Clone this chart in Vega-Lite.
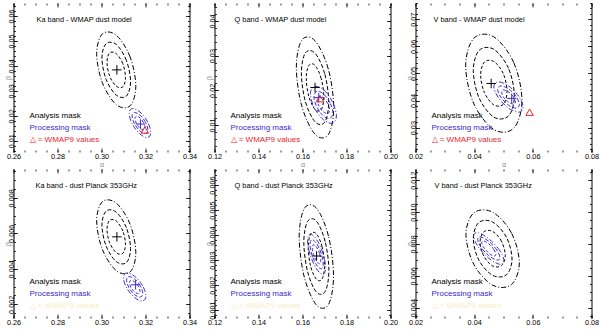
{
"$schema": "https://vega.github.io/schema/vega-lite/v6.json",
"padding": {"left": 3.5, "top": 2, "right": 0, "bottom": 0},
"bounds": "flush",
"columns": 3,
"spacing": {"row": 17, "column": 25},
"resolve": {"scale": {"x": "independent", "y": "independent", "color": "independent"}, "legend": {"color": "independent"}},
"config": {
 "font": "Liberation Sans",
 "view": {"stroke": null},
 "axis": {"grid": false, "labelFontSize": 7.3, "labelColor": "#000", "tickColor": "#000", "domainColor": "#000", "tickWidth": 0.8, "domainWidth": 1, "titleColor": "#888", "titleFontSize": 7, "titleFontWeight": "normal", "labelFlush": false, "labelOverlap": false},
 "legend": {"orient": "bottom-left", "offset": 8, "padding": 0, "symbolOpacity": 0, "symbolSize": 0, "symbolStrokeWidth": 0, "labelOffset": 0, "labelFontSize": 8, "rowPadding": 3.8, "labelLimit": 300, "title": null},
 "title": {"anchor": "start", "fontSize": 7.4, "fontWeight": "normal", "offset": -21, "baseline": "alphabetic", "frame": "group", "color": "#000"}
},
"datasets": {
 "m": [
  {"p":1,"s":"A","x":0.3070,"y":0.0384},{"p":1,"s":"P","x":0.3177,"y":0.0167},
  {"p":2,"s":"A","x":0.1657,"y":0.0208},{"p":2,"s":"P","x":0.1674,"y":0.0179},
  {"p":3,"s":"A","x":0.0458,"y":0.0463},{"p":3,"s":"P","x":0.0528,"y":0.0408},
  {"p":4,"s":"A","x":0.3070,"y":0.0058},{"p":4,"s":"P","x":0.3155,"y":0.0031},
  {"p":5,"s":"A","x":0.1664,"y":0.00316}
 ],
 "t": [
  {"p":1,"s":"W","x":0.3197,"y":0.0143},
  {"p":2,"s":"W","x":0.1680,"y":0.0176},
  {"p":3,"s":"W","x":0.0589,"y":0.0357}
 ],
 "c": [
  {"p":1,"s":"A","l":3,"o":0,"x":0.3156,"y":0.0319},{"p":1,"s":"A","l":3,"o":1,"x":0.3130,"y":0.0436},{"p":1,"s":"A","l":3,"o":2,"x":0.3067,"y":0.0523},{"p":1,"s":"A","l":3,"o":3,"x":0.3004,"y":0.0528},{"p":1,"s":"A","l":3,"o":4,"x":0.2978,"y":0.0449},{"p":1,"s":"A","l":3,"o":5,"x":0.3004,"y":0.0332},{"p":1,"s":"A","l":3,"o":6,"x":0.3067,"y":0.0245},{"p":1,"s":"A","l":3,"o":7,"x":0.3130,"y":0.0240},
  {"p":1,"s":"A","l":2,"o":0,"x":0.3132,"y":0.0337},{"p":1,"s":"A","l":2,"o":1,"x":0.3113,"y":0.0422},{"p":1,"s":"A","l":2,"o":2,"x":0.3067,"y":0.0486},{"p":1,"s":"A","l":2,"o":3,"x":0.3021,"y":0.0489},{"p":1,"s":"A","l":2,"o":4,"x":0.3002,"y":0.0432},{"p":1,"s":"A","l":2,"o":5,"x":0.3021,"y":0.0346},{"p":1,"s":"A","l":2,"o":6,"x":0.3067,"y":0.0283},{"p":1,"s":"A","l":2,"o":7,"x":0.3113,"y":0.0279},
  {"p":1,"s":"A","l":1,"o":0,"x":0.3109,"y":0.0353},{"p":1,"s":"A","l":1,"o":1,"x":0.3097,"y":0.0409},{"p":1,"s":"A","l":1,"o":2,"x":0.3067,"y":0.0449},{"p":1,"s":"A","l":1,"o":3,"x":0.3037,"y":0.0452},{"p":1,"s":"A","l":1,"o":4,"x":0.3025,"y":0.0415},{"p":1,"s":"A","l":1,"o":5,"x":0.3037,"y":0.0359},{"p":1,"s":"A","l":1,"o":6,"x":0.3067,"y":0.0319},{"p":1,"s":"A","l":1,"o":7,"x":0.3097,"y":0.0316},
  {"p":1,"s":"P","l":3,"o":0,"x":0.3224,"y":0.0133},{"p":1,"s":"P","l":3,"o":1,"x":0.3210,"y":0.0175},{"p":1,"s":"P","l":3,"o":2,"x":0.3175,"y":0.0215},{"p":1,"s":"P","l":3,"o":3,"x":0.3140,"y":0.0229},{"p":1,"s":"P","l":3,"o":4,"x":0.3126,"y":0.0209},{"p":1,"s":"P","l":3,"o":5,"x":0.3140,"y":0.0167},{"p":1,"s":"P","l":3,"o":6,"x":0.3175,"y":0.0127},{"p":1,"s":"P","l":3,"o":7,"x":0.3210,"y":0.0113},
  {"p":1,"s":"P","l":2,"o":0,"x":0.3211,"y":0.0143},{"p":1,"s":"P","l":2,"o":1,"x":0.3200,"y":0.0174},{"p":1,"s":"P","l":2,"o":2,"x":0.3175,"y":0.0203},{"p":1,"s":"P","l":2,"o":3,"x":0.3150,"y":0.0213},{"p":1,"s":"P","l":2,"o":4,"x":0.3139,"y":0.0199},{"p":1,"s":"P","l":2,"o":5,"x":0.3150,"y":0.0168},{"p":1,"s":"P","l":2,"o":6,"x":0.3175,"y":0.0139},{"p":1,"s":"P","l":2,"o":7,"x":0.3200,"y":0.0129},
  {"p":1,"s":"P","l":1,"o":0,"x":0.3198,"y":0.0153},{"p":1,"s":"P","l":1,"o":1,"x":0.3191,"y":0.0173},{"p":1,"s":"P","l":1,"o":2,"x":0.3175,"y":0.0192},{"p":1,"s":"P","l":1,"o":3,"x":0.3159,"y":0.0198},{"p":1,"s":"P","l":1,"o":4,"x":0.3152,"y":0.0189},{"p":1,"s":"P","l":1,"o":5,"x":0.3159,"y":0.0169},{"p":1,"s":"P","l":1,"o":6,"x":0.3175,"y":0.0150},{"p":1,"s":"P","l":1,"o":7,"x":0.3191,"y":0.0144},

  {"p":2,"s":"A","l":3,"o":0,"x":0.1742,"y":0.0150},{"p":2,"s":"A","l":3,"o":1,"x":0.1717,"y":0.0262},{"p":2,"s":"A","l":3,"o":2,"x":0.1657,"y":0.0343},{"p":2,"s":"A","l":3,"o":3,"x":0.1597,"y":0.0345},{"p":2,"s":"A","l":3,"o":4,"x":0.1572,"y":0.0266},{"p":2,"s":"A","l":3,"o":5,"x":0.1597,"y":0.0154},{"p":2,"s":"A","l":3,"o":6,"x":0.1657,"y":0.0073},{"p":2,"s":"A","l":3,"o":7,"x":0.1717,"y":0.0072},
  {"p":2,"s":"A","l":2,"o":0,"x":0.1719,"y":0.0166},{"p":2,"s":"A","l":2,"o":1,"x":0.1701,"y":0.0248},{"p":2,"s":"A","l":2,"o":2,"x":0.1657,"y":0.0307},{"p":2,"s":"A","l":2,"o":3,"x":0.1613,"y":0.0308},{"p":2,"s":"A","l":2,"o":4,"x":0.1595,"y":0.0250},{"p":2,"s":"A","l":2,"o":5,"x":0.1613,"y":0.0168},{"p":2,"s":"A","l":2,"o":6,"x":0.1657,"y":0.0109},{"p":2,"s":"A","l":2,"o":7,"x":0.1701,"y":0.0108},
  {"p":2,"s":"A","l":1,"o":0,"x":0.1697,"y":0.0181},{"p":2,"s":"A","l":1,"o":1,"x":0.1685,"y":0.0234},{"p":2,"s":"A","l":1,"o":2,"x":0.1657,"y":0.0272},{"p":2,"s":"A","l":1,"o":3,"x":0.1629,"y":0.0272},{"p":2,"s":"A","l":1,"o":4,"x":0.1617,"y":0.0235},{"p":2,"s":"A","l":1,"o":5,"x":0.1629,"y":0.0182},{"p":2,"s":"A","l":1,"o":6,"x":0.1657,"y":0.0145},{"p":2,"s":"A","l":1,"o":7,"x":0.1685,"y":0.0144},
  {"p":2,"s":"P","l":3,"o":0,"x":0.1754,"y":0.0126},{"p":2,"s":"P","l":3,"o":1,"x":0.1737,"y":0.0166},{"p":2,"s":"P","l":3,"o":2,"x":0.1695,"y":0.0202},{"p":2,"s":"P","l":3,"o":3,"x":0.1653,"y":0.0211},{"p":2,"s":"P","l":3,"o":4,"x":0.1636,"y":0.0190},{"p":2,"s":"P","l":3,"o":5,"x":0.1653,"y":0.0150},{"p":2,"s":"P","l":3,"o":6,"x":0.1695,"y":0.0115},{"p":2,"s":"P","l":3,"o":7,"x":0.1737,"y":0.0105},
  {"p":2,"s":"P","l":2,"o":0,"x":0.1738,"y":0.0135},{"p":2,"s":"P","l":2,"o":1,"x":0.1725,"y":0.0164},{"p":2,"s":"P","l":2,"o":2,"x":0.1695,"y":0.0190},{"p":2,"s":"P","l":2,"o":3,"x":0.1665,"y":0.0197},{"p":2,"s":"P","l":2,"o":4,"x":0.1652,"y":0.0181},{"p":2,"s":"P","l":2,"o":5,"x":0.1665,"y":0.0152},{"p":2,"s":"P","l":2,"o":6,"x":0.1695,"y":0.0126},{"p":2,"s":"P","l":2,"o":7,"x":0.1725,"y":0.0119},
  {"p":2,"s":"P","l":1,"o":0,"x":0.1723,"y":0.0143},{"p":2,"s":"P","l":1,"o":1,"x":0.1715,"y":0.0162},{"p":2,"s":"P","l":1,"o":2,"x":0.1695,"y":0.0178},{"p":2,"s":"P","l":1,"o":3,"x":0.1675,"y":0.0183},{"p":2,"s":"P","l":1,"o":4,"x":0.1667,"y":0.0173},{"p":2,"s":"P","l":1,"o":5,"x":0.1675,"y":0.0154},{"p":2,"s":"P","l":1,"o":6,"x":0.1695,"y":0.0138},{"p":2,"s":"P","l":1,"o":7,"x":0.1715,"y":0.0133},

  {"p":3,"s":"A","l":3,"o":0,"x":0.0563,"y":0.0400},{"p":3,"s":"A","l":3,"o":1,"x":0.0535,"y":0.0540},{"p":3,"s":"A","l":3,"o":2,"x":0.0467,"y":0.0635},{"p":3,"s":"A","l":3,"o":3,"x":0.0399,"y":0.0630},{"p":3,"s":"A","l":3,"o":4,"x":0.0371,"y":0.0528},{"p":3,"s":"A","l":3,"o":5,"x":0.0399,"y":0.0388},{"p":3,"s":"A","l":3,"o":6,"x":0.0467,"y":0.0293},{"p":3,"s":"A","l":3,"o":7,"x":0.0535,"y":0.0298},
  {"p":3,"s":"A","l":2,"o":0,"x":0.0537,"y":0.0417},{"p":3,"s":"A","l":2,"o":1,"x":0.0517,"y":0.0519},{"p":3,"s":"A","l":2,"o":2,"x":0.0467,"y":0.0589},{"p":3,"s":"A","l":2,"o":3,"x":0.0417,"y":0.0585},{"p":3,"s":"A","l":2,"o":4,"x":0.0397,"y":0.0511},{"p":3,"s":"A","l":2,"o":5,"x":0.0417,"y":0.0409},{"p":3,"s":"A","l":2,"o":6,"x":0.0467,"y":0.0339},{"p":3,"s":"A","l":2,"o":7,"x":0.0517,"y":0.0343},
  {"p":3,"s":"A","l":1,"o":0,"x":0.0512,"y":0.0434},{"p":3,"s":"A","l":1,"o":1,"x":0.0499,"y":0.0500},{"p":3,"s":"A","l":1,"o":2,"x":0.0467,"y":0.0544},{"p":3,"s":"A","l":1,"o":3,"x":0.0435,"y":0.0542},{"p":3,"s":"A","l":1,"o":4,"x":0.0422,"y":0.0494},{"p":3,"s":"A","l":1,"o":5,"x":0.0435,"y":0.0429},{"p":3,"s":"A","l":1,"o":6,"x":0.0467,"y":0.0384},{"p":3,"s":"A","l":1,"o":7,"x":0.0499,"y":0.0386},
  {"p":3,"s":"P","l":3,"o":0,"x":0.0567,"y":0.0375},{"p":3,"s":"P","l":3,"o":1,"x":0.0552,"y":0.0415},{"p":3,"s":"P","l":3,"o":2,"x":0.0517,"y":0.0454},{"p":3,"s":"P","l":3,"o":3,"x":0.0482,"y":0.0469},{"p":3,"s":"P","l":3,"o":4,"x":0.0467,"y":0.0451},{"p":3,"s":"P","l":3,"o":5,"x":0.0482,"y":0.0411},{"p":3,"s":"P","l":3,"o":6,"x":0.0517,"y":0.0372},{"p":3,"s":"P","l":3,"o":7,"x":0.0552,"y":0.0357},
  {"p":3,"s":"P","l":2,"o":0,"x":0.0554,"y":0.0385},{"p":3,"s":"P","l":2,"o":1,"x":0.0543,"y":0.0415},{"p":3,"s":"P","l":2,"o":2,"x":0.0517,"y":0.0443},{"p":3,"s":"P","l":2,"o":3,"x":0.0491,"y":0.0454},{"p":3,"s":"P","l":2,"o":4,"x":0.0480,"y":0.0441},{"p":3,"s":"P","l":2,"o":5,"x":0.0491,"y":0.0412},{"p":3,"s":"P","l":2,"o":6,"x":0.0517,"y":0.0383},{"p":3,"s":"P","l":2,"o":7,"x":0.0543,"y":0.0372},
  {"p":3,"s":"P","l":1,"o":0,"x":0.0541,"y":0.0395},{"p":3,"s":"P","l":1,"o":1,"x":0.0534,"y":0.0414},{"p":3,"s":"P","l":1,"o":2,"x":0.0517,"y":0.0432},{"p":3,"s":"P","l":1,"o":3,"x":0.0500,"y":0.0439},{"p":3,"s":"P","l":1,"o":4,"x":0.0494,"y":0.0431},{"p":3,"s":"P","l":1,"o":5,"x":0.0500,"y":0.0412},{"p":3,"s":"P","l":1,"o":6,"x":0.0517,"y":0.0394},{"p":3,"s":"P","l":1,"o":7,"x":0.0534,"y":0.0387},

  {"p":4,"s":"A","l":3,"o":0,"x":0.3156,"y":0.00490},{"p":4,"s":"A","l":3,"o":1,"x":0.3130,"y":0.00651},{"p":4,"s":"A","l":3,"o":2,"x":0.3067,"y":0.00770},{"p":4,"s":"A","l":3,"o":3,"x":0.3004,"y":0.00778},{"p":4,"s":"A","l":3,"o":4,"x":0.2978,"y":0.00670},{"p":4,"s":"A","l":3,"o":5,"x":0.3004,"y":0.00509},{"p":4,"s":"A","l":3,"o":6,"x":0.3067,"y":0.00390},{"p":4,"s":"A","l":3,"o":7,"x":0.3130,"y":0.00382},
  {"p":4,"s":"A","l":2,"o":0,"x":0.3132,"y":0.00514},{"p":4,"s":"A","l":2,"o":1,"x":0.3113,"y":0.00632},{"p":4,"s":"A","l":2,"o":2,"x":0.3067,"y":0.00719},{"p":4,"s":"A","l":2,"o":3,"x":0.3021,"y":0.00725},{"p":4,"s":"A","l":2,"o":4,"x":0.3002,"y":0.00646},{"p":4,"s":"A","l":2,"o":5,"x":0.3021,"y":0.00528},{"p":4,"s":"A","l":2,"o":6,"x":0.3067,"y":0.00441},{"p":4,"s":"A","l":2,"o":7,"x":0.3113,"y":0.00435},
  {"p":4,"s":"A","l":1,"o":0,"x":0.3109,"y":0.00538},{"p":4,"s":"A","l":1,"o":1,"x":0.3097,"y":0.00613},{"p":4,"s":"A","l":1,"o":2,"x":0.3067,"y":0.00669},{"p":4,"s":"A","l":1,"o":3,"x":0.3037,"y":0.00673},{"p":4,"s":"A","l":1,"o":4,"x":0.3025,"y":0.00622},{"p":4,"s":"A","l":1,"o":5,"x":0.3037,"y":0.00547},{"p":4,"s":"A","l":1,"o":6,"x":0.3067,"y":0.00491},{"p":4,"s":"A","l":1,"o":7,"x":0.3097,"y":0.00487},
  {"p":4,"s":"P","l":3,"o":0,"x":0.3202,"y":0.00247},{"p":4,"s":"P","l":3,"o":1,"x":0.3187,"y":0.00305},{"p":4,"s":"P","l":3,"o":2,"x":0.3151,"y":0.00358},{"p":4,"s":"P","l":3,"o":3,"x":0.3115,"y":0.00377},{"p":4,"s":"P","l":3,"o":4,"x":0.3100,"y":0.00349},{"p":4,"s":"P","l":3,"o":5,"x":0.3115,"y":0.00291},{"p":4,"s":"P","l":3,"o":6,"x":0.3151,"y":0.00238},{"p":4,"s":"P","l":3,"o":7,"x":0.3187,"y":0.00219},
  {"p":4,"s":"P","l":2,"o":0,"x":0.3188,"y":0.00261},{"p":4,"s":"P","l":2,"o":1,"x":0.3177,"y":0.00303},{"p":4,"s":"P","l":2,"o":2,"x":0.3151,"y":0.00342},{"p":4,"s":"P","l":2,"o":3,"x":0.3125,"y":0.00356},{"p":4,"s":"P","l":2,"o":4,"x":0.3114,"y":0.00335},{"p":4,"s":"P","l":2,"o":5,"x":0.3125,"y":0.00293},{"p":4,"s":"P","l":2,"o":6,"x":0.3151,"y":0.00254},{"p":4,"s":"P","l":2,"o":7,"x":0.3177,"y":0.00241},
  {"p":4,"s":"P","l":1,"o":0,"x":0.3175,"y":0.00274},{"p":4,"s":"P","l":1,"o":1,"x":0.3168,"y":0.00301},{"p":4,"s":"P","l":1,"o":2,"x":0.3151,"y":0.00326},{"p":4,"s":"P","l":1,"o":3,"x":0.3134,"y":0.00335},{"p":4,"s":"P","l":1,"o":4,"x":0.3127,"y":0.00322},{"p":4,"s":"P","l":1,"o":5,"x":0.3134,"y":0.00295},{"p":4,"s":"P","l":1,"o":6,"x":0.3151,"y":0.00270},{"p":4,"s":"P","l":1,"o":7,"x":0.3168,"y":0.00261},

  {"p":5,"s":"A","l":3,"o":0,"x":0.1741,"y":0.00236},{"p":5,"s":"A","l":3,"o":1,"x":0.1718,"y":0.00396},{"p":5,"s":"A","l":3,"o":2,"x":0.1663,"y":0.00508},{"p":5,"s":"A","l":3,"o":3,"x":0.1608,"y":0.00506},{"p":5,"s":"A","l":3,"o":4,"x":0.1585,"y":0.00392},{"p":5,"s":"A","l":3,"o":5,"x":0.1608,"y":0.00232},{"p":5,"s":"A","l":3,"o":6,"x":0.1663,"y":0.00120},{"p":5,"s":"A","l":3,"o":7,"x":0.1718,"y":0.00122},
  {"p":5,"s":"A","l":2,"o":0,"x":0.1720,"y":0.00257},{"p":5,"s":"A","l":2,"o":1,"x":0.1703,"y":0.00374},{"p":5,"s":"A","l":2,"o":2,"x":0.1663,"y":0.00456},{"p":5,"s":"A","l":2,"o":3,"x":0.1623,"y":0.00454},{"p":5,"s":"A","l":2,"o":4,"x":0.1606,"y":0.00371},{"p":5,"s":"A","l":2,"o":5,"x":0.1623,"y":0.00254},{"p":5,"s":"A","l":2,"o":6,"x":0.1663,"y":0.00172},{"p":5,"s":"A","l":2,"o":7,"x":0.1703,"y":0.00174},
  {"p":5,"s":"A","l":1,"o":0,"x":0.1700,"y":0.00277},{"p":5,"s":"A","l":1,"o":1,"x":0.1689,"y":0.00353},{"p":5,"s":"A","l":1,"o":2,"x":0.1663,"y":0.00405},{"p":5,"s":"A","l":1,"o":3,"x":0.1637,"y":0.00404},{"p":5,"s":"A","l":1,"o":4,"x":0.1626,"y":0.00351},{"p":5,"s":"A","l":1,"o":5,"x":0.1637,"y":0.00275},{"p":5,"s":"A","l":1,"o":6,"x":0.1663,"y":0.00223},{"p":5,"s":"A","l":1,"o":7,"x":0.1689,"y":0.00224},
  {"p":5,"s":"P","l":3,"o":0,"x":0.1705,"y":0.00269},{"p":5,"s":"P","l":3,"o":1,"x":0.1693,"y":0.00327},{"p":5,"s":"P","l":3,"o":2,"x":0.1664,"y":0.00382},{"p":5,"s":"P","l":3,"o":3,"x":0.1635,"y":0.00403},{"p":5,"s":"P","l":3,"o":4,"x":0.1623,"y":0.00377},{"p":5,"s":"P","l":3,"o":5,"x":0.1635,"y":0.00320},{"p":5,"s":"P","l":3,"o":6,"x":0.1664,"y":0.00264},{"p":5,"s":"P","l":3,"o":7,"x":0.1693,"y":0.00243},
  {"p":5,"s":"P","l":2,"o":0,"x":0.1694,"y":0.00284},{"p":5,"s":"P","l":2,"o":1,"x":0.1685,"y":0.00326},{"p":5,"s":"P","l":2,"o":2,"x":0.1664,"y":0.00366},{"p":5,"s":"P","l":2,"o":3,"x":0.1643,"y":0.00381},{"p":5,"s":"P","l":2,"o":4,"x":0.1634,"y":0.00362},{"p":5,"s":"P","l":2,"o":5,"x":0.1643,"y":0.00320},{"p":5,"s":"P","l":2,"o":6,"x":0.1664,"y":0.00280},{"p":5,"s":"P","l":2,"o":7,"x":0.1685,"y":0.00265},
  {"p":5,"s":"P","l":1,"o":0,"x":0.1683,"y":0.00298},{"p":5,"s":"P","l":1,"o":1,"x":0.1678,"y":0.00325},{"p":5,"s":"P","l":1,"o":2,"x":0.1664,"y":0.00351},{"p":5,"s":"P","l":1,"o":3,"x":0.1650,"y":0.00361},{"p":5,"s":"P","l":1,"o":4,"x":0.1645,"y":0.00348},{"p":5,"s":"P","l":1,"o":5,"x":0.1650,"y":0.00321},{"p":5,"s":"P","l":1,"o":6,"x":0.1664,"y":0.00295},{"p":5,"s":"P","l":1,"o":7,"x":0.1678,"y":0.00285},

  {"p":6,"s":"A","l":3,"o":0,"x":0.0554,"y":0.00681},{"p":6,"s":"A","l":3,"o":1,"x":0.0527,"y":0.00869},{"p":6,"s":"A","l":3,"o":2,"x":0.0463,"y":0.00999},{"p":6,"s":"A","l":3,"o":3,"x":0.0399,"y":0.00995},{"p":6,"s":"A","l":3,"o":4,"x":0.0372,"y":0.00859},{"p":6,"s":"A","l":3,"o":5,"x":0.0399,"y":0.00671},{"p":6,"s":"A","l":3,"o":6,"x":0.0463,"y":0.00541},{"p":6,"s":"A","l":3,"o":7,"x":0.0527,"y":0.00545},
  {"p":6,"s":"A","l":2,"o":0,"x":0.0529,"y":0.00705},{"p":6,"s":"A","l":2,"o":1,"x":0.0510,"y":0.00842},{"p":6,"s":"A","l":2,"o":2,"x":0.0463,"y":0.00937},{"p":6,"s":"A","l":2,"o":3,"x":0.0416,"y":0.00934},{"p":6,"s":"A","l":2,"o":4,"x":0.0397,"y":0.00835},{"p":6,"s":"A","l":2,"o":5,"x":0.0416,"y":0.00698},{"p":6,"s":"A","l":2,"o":6,"x":0.0463,"y":0.00603},{"p":6,"s":"A","l":2,"o":7,"x":0.0510,"y":0.00606},
  {"p":6,"s":"A","l":1,"o":0,"x":0.0506,"y":0.00728},{"p":6,"s":"A","l":1,"o":1,"x":0.0493,"y":0.00817},{"p":6,"s":"A","l":1,"o":2,"x":0.0463,"y":0.00878},{"p":6,"s":"A","l":1,"o":3,"x":0.0433,"y":0.00876},{"p":6,"s":"A","l":1,"o":4,"x":0.0420,"y":0.00812},{"p":6,"s":"A","l":1,"o":5,"x":0.0433,"y":0.00723},{"p":6,"s":"A","l":1,"o":6,"x":0.0463,"y":0.00662},{"p":6,"s":"A","l":1,"o":7,"x":0.0493,"y":0.00664},
  {"p":6,"s":"P","l":3,"o":0,"x":0.0502,"y":0.00692},{"p":6,"s":"P","l":3,"o":1,"x":0.0487,"y":0.00759},{"p":6,"s":"P","l":3,"o":2,"x":0.0450,"y":0.00832},{"p":6,"s":"P","l":3,"o":3,"x":0.0413,"y":0.00870},{"p":6,"s":"P","l":3,"o":4,"x":0.0398,"y":0.00850},{"p":6,"s":"P","l":3,"o":5,"x":0.0413,"y":0.00784},{"p":6,"s":"P","l":3,"o":6,"x":0.0450,"y":0.00710},{"p":6,"s":"P","l":3,"o":7,"x":0.0487,"y":0.00672},
  {"p":6,"s":"P","l":2,"o":0,"x":0.0488,"y":0.00713},{"p":6,"s":"P","l":2,"o":1,"x":0.0477,"y":0.00762},{"p":6,"s":"P","l":2,"o":2,"x":0.0450,"y":0.00816},{"p":6,"s":"P","l":2,"o":3,"x":0.0423,"y":0.00843},{"p":6,"s":"P","l":2,"o":4,"x":0.0412,"y":0.00829},{"p":6,"s":"P","l":2,"o":5,"x":0.0423,"y":0.00780},{"p":6,"s":"P","l":2,"o":6,"x":0.0450,"y":0.00726},{"p":6,"s":"P","l":2,"o":7,"x":0.0477,"y":0.00699},
  {"p":6,"s":"P","l":1,"o":0,"x":0.0474,"y":0.00734},{"p":6,"s":"P","l":1,"o":1,"x":0.0467,"y":0.00765},{"p":6,"s":"P","l":1,"o":2,"x":0.0450,"y":0.00800},{"p":6,"s":"P","l":1,"o":3,"x":0.0433,"y":0.00818},{"p":6,"s":"P","l":1,"o":4,"x":0.0426,"y":0.00808},{"p":6,"s":"P","l":1,"o":5,"x":0.0433,"y":0.00777},{"p":6,"s":"P","l":1,"o":6,"x":0.0450,"y":0.00742},{"p":6,"s":"P","l":1,"o":7,"x":0.0467,"y":0.00724}
 ]
},
"concat": [
 {
  "width": 176, "height": 149,
  "title": {"text": "Ka band - WMAP dust model", "dx": 23},
  "resolve": {"axis": {"x": "independent", "y": "independent"}},
  "layer": [
   {"data": {"name": "c"}, "transform": [{"filter": "datum.p == 1"}],
    "mark": {"type": "line", "interpolate": "cardinal-closed", "strokeWidth": 1},
    "encoding": {
     "x": {"field": "x", "type": "quantitative", "scale": {"domain": [0.26, 0.34], "nice": false, "zero": false}, "axis": {"orient": "bottom", "values": [0.26, 0.28, 0.30, 0.32, 0.34], "format": ".2f", "title": "α", "domain": false, "tickSize": -4, "labelPadding": 4, "titlePadding": 1}},
     "y": {"field": "y", "type": "quantitative", "scale": {"domain": [0.0055, 0.0652], "nice": false, "zero": false}, "axis": {"orient": "left", "values": [0.01, 0.02, 0.03, 0.04, 0.05, 0.06], "format": ".2f", "title": "β", "domain": true, "tickSize": -4, "labelAngle": 270, "labelAlign": "center", "labelBaseline": "bottom", "labelPadding": 2, "titlePadding": -4}},
     "color": {"field": "s", "type": "nominal", "scale": {"domain": ["A", "P", "W"], "range": ["#000000", "#3a29d0", "#e8262e"]}, "legend": {"labelExpr": "datum.value == 'A' ? 'Analysis mask' : datum.value == 'P' ? 'Processing mask' : '△ = WMAP9 values'", "labelColor": {"expr": "datum.value == 'A' ? '#000000' : datum.value == 'P' ? '#3a29d0' : '#e8262e'"}}},
     "strokeDash": {"field": "l", "type": "ordinal", "scale": {"domain": [1, 2, 3], "range": [[3, 2], [4, 2], [5, 2, 1, 2]]}, "legend": null},
     "order": {"field": "o", "type": "quantitative"}
    }},
   {"data": {"name": "m"}, "transform": [{"filter": "datum.p == 1"}],
    "mark": {"type": "point", "shape": "M-1,0L1,0M0,-1L0,1", "filled": false, "size": 90, "strokeWidth": 1, "opacity": 1},
    "encoding": {
     "x": {"field": "x", "type": "quantitative", "scale": {"domain": [0.26, 0.34], "nice": false, "zero": false}, "axis": {"orient": "top", "values": [0.26, 0.28, 0.30, 0.32, 0.34], "labels": false, "domain": false, "tickSize": -4, "title": null}},
     "y": {"field": "y", "type": "quantitative", "scale": {"domain": [0.0055, 0.0652], "nice": false, "zero": false}, "axis": {"orient": "right", "values": [0.01, 0.02, 0.03, 0.04, 0.05, 0.06], "labels": false, "domain": true, "tickSize": -4, "title": null}},
     "color": {"field": "s", "type": "nominal"}
    }},
   {"data": {"name": "t"}, "transform": [{"filter": "datum.p == 1"}],
    "mark": {"type": "point", "shape": "triangle-up", "filled": false, "size": 55, "strokeWidth": 1, "opacity": 1},
    "encoding": {
     "x": {"field": "x", "type": "quantitative", "scale": {"domain": [0.26, 0.34], "nice": false, "zero": false}, "axis": {"orient": "bottom", "tickCount": 16, "labels": false, "domain": false, "tickSize": -2, "title": null}},
     "y": {"field": "y", "type": "quantitative", "scale": {"domain": [0.0055, 0.0652], "nice": false, "zero": false}, "axis": {"orient": "left", "tickCount": 30, "labels": false, "domain": false, "tickSize": -2, "title": null}},
     "color": {"field": "s", "type": "nominal"}
    }},
   {"data": {"name": "m"}, "transform": [{"filter": "datum.p == 1"}],
    "mark": {"type": "point", "opacity": 0},
    "encoding": {
     "x": {"field": "x", "type": "quantitative", "scale": {"domain": [0.26, 0.34], "nice": false, "zero": false}, "axis": {"orient": "top", "tickCount": 16, "labels": false, "domain": false, "tickSize": -2, "title": null}},
     "y": {"field": "y", "type": "quantitative", "scale": {"domain": [0.0055, 0.0652], "nice": false, "zero": false}, "axis": {"orient": "right", "tickCount": 30, "labels": false, "domain": false, "tickSize": -2, "title": null}}
    }}
  ]
 },
 {
  "width": 176, "height": 149,
  "title": {"text": "Q band - WMAP dust model", "dx": 20},
  "resolve": {"axis": {"x": "independent", "y": "independent"}},
  "layer": [
   {"data": {"name": "c"}, "transform": [{"filter": "datum.p == 2"}],
    "mark": {"type": "line", "interpolate": "cardinal-closed", "strokeWidth": 1},
    "encoding": {
     "x": {"field": "x", "type": "quantitative", "scale": {"domain": [0.12, 0.20], "nice": false, "zero": false}, "axis": {"orient": "bottom", "values": [0.12, 0.14, 0.16, 0.18, 0.20], "format": ".2f", "title": "α", "domain": false, "tickSize": -4, "labelPadding": 4, "titlePadding": 1}},
     "y": {"field": "y", "type": "quantitative", "scale": {"domain": [0.0022, 0.0452], "nice": false, "zero": false}, "axis": {"orient": "left", "values": [0.01, 0.02, 0.03, 0.04], "format": ".2f", "title": "β", "domain": true, "tickSize": -4, "labelAngle": 270, "labelAlign": "center", "labelBaseline": "bottom", "labelPadding": 2, "titlePadding": -4}},
     "color": {"field": "s", "type": "nominal", "scale": {"domain": ["A", "P", "W"], "range": ["#000000", "#3a29d0", "#e8262e"]}, "legend": {"labelExpr": "datum.value == 'A' ? 'Analysis mask' : datum.value == 'P' ? 'Processing mask' : '△ = WMAP9 values'", "labelColor": {"expr": "datum.value == 'A' ? '#000000' : datum.value == 'P' ? '#3a29d0' : '#e8262e'"}}},
     "strokeDash": {"field": "l", "type": "ordinal", "scale": {"domain": [1, 2, 3], "range": [[3, 2], [4, 2], [5, 2, 1, 2]]}, "legend": null},
     "order": {"field": "o", "type": "quantitative"}
    }},
   {"data": {"name": "m"}, "transform": [{"filter": "datum.p == 2"}],
    "mark": {"type": "point", "shape": "M-1,0L1,0M0,-1L0,1", "filled": false, "size": 90, "strokeWidth": 1, "opacity": 1},
    "encoding": {
     "x": {"field": "x", "type": "quantitative", "scale": {"domain": [0.12, 0.20], "nice": false, "zero": false}, "axis": {"orient": "top", "values": [0.12, 0.14, 0.16, 0.18, 0.20], "labels": false, "domain": false, "tickSize": -4, "title": null}},
     "y": {"field": "y", "type": "quantitative", "scale": {"domain": [0.0022, 0.0452], "nice": false, "zero": false}, "axis": {"orient": "right", "values": [0.01, 0.02, 0.03, 0.04], "labels": false, "domain": true, "tickSize": -4, "title": null}},
     "color": {"field": "s", "type": "nominal"}
    }},
   {"data": {"name": "t"}, "transform": [{"filter": "datum.p == 2"}],
    "mark": {"type": "point", "shape": "triangle-up", "filled": false, "size": 55, "strokeWidth": 1, "opacity": 1},
    "encoding": {
     "x": {"field": "x", "type": "quantitative", "scale": {"domain": [0.12, 0.20], "nice": false, "zero": false}, "axis": {"orient": "bottom", "tickCount": 16, "labels": false, "domain": false, "tickSize": -2, "title": null}},
     "y": {"field": "y", "type": "quantitative", "scale": {"domain": [0.0022, 0.0452], "nice": false, "zero": false}, "axis": {"orient": "left", "tickCount": 21, "labels": false, "domain": false, "tickSize": -2, "title": null}},
     "color": {"field": "s", "type": "nominal"}
    }},
   {"data": {"name": "m"}, "transform": [{"filter": "datum.p == 2"}],
    "mark": {"type": "point", "opacity": 0},
    "encoding": {
     "x": {"field": "x", "type": "quantitative", "scale": {"domain": [0.12, 0.20], "nice": false, "zero": false}, "axis": {"orient": "top", "tickCount": 16, "labels": false, "domain": false, "tickSize": -2, "title": null}},
     "y": {"field": "y", "type": "quantitative", "scale": {"domain": [0.0022, 0.0452], "nice": false, "zero": false}, "axis": {"orient": "right", "tickCount": 21, "labels": false, "domain": false, "tickSize": -2, "title": null}}
    }}
  ]
 },
 {
  "width": 176, "height": 149,
  "title": {"text": "V band - WMAP dust model", "dx": 18},
  "resolve": {"axis": {"x": "independent", "y": "independent"}},
  "layer": [
   {"data": {"name": "c"}, "transform": [{"filter": "datum.p == 3"}],
    "mark": {"type": "line", "interpolate": "cardinal-closed", "strokeWidth": 1},
    "encoding": {
     "x": {"field": "x", "type": "quantitative", "scale": {"domain": [0.02, 0.08], "nice": false, "zero": false}, "axis": {"orient": "bottom", "values": [0.02, 0.04, 0.06, 0.08], "format": ".2f", "title": "α", "domain": false, "tickSize": -4, "labelPadding": 4, "titlePadding": 1}},
     "y": {"field": "y", "type": "quantitative", "scale": {"domain": [0.021, 0.076], "nice": false, "zero": false}, "axis": {"orient": "left", "values": [0.03, 0.04, 0.05, 0.06, 0.07], "format": ".2f", "title": "β", "domain": true, "tickSize": -4, "labelAngle": 270, "labelAlign": "center", "labelBaseline": "bottom", "labelPadding": 2, "titlePadding": -4}},
     "color": {"field": "s", "type": "nominal", "scale": {"domain": ["A", "P", "W"], "range": ["#000000", "#3a29d0", "#e8262e"]}, "legend": {"labelExpr": "datum.value == 'A' ? 'Analysis mask' : datum.value == 'P' ? 'Processing mask' : '△ = WMAP9 values'", "labelColor": {"expr": "datum.value == 'A' ? '#000000' : datum.value == 'P' ? '#3a29d0' : '#e8262e'"}}},
     "strokeDash": {"field": "l", "type": "ordinal", "scale": {"domain": [1, 2, 3], "range": [[3, 2], [4, 2], [5, 2, 1, 2]]}, "legend": null},
     "order": {"field": "o", "type": "quantitative"}
    }},
   {"data": {"name": "m"}, "transform": [{"filter": "datum.p == 3"}],
    "mark": {"type": "point", "shape": "M-1,0L1,0M0,-1L0,1", "filled": false, "size": 90, "strokeWidth": 1, "opacity": 1},
    "encoding": {
     "x": {"field": "x", "type": "quantitative", "scale": {"domain": [0.02, 0.08], "nice": false, "zero": false}, "axis": {"orient": "top", "values": [0.02, 0.04, 0.06, 0.08], "labels": false, "domain": false, "tickSize": -4, "title": null}},
     "y": {"field": "y", "type": "quantitative", "scale": {"domain": [0.021, 0.076], "nice": false, "zero": false}, "axis": {"orient": "right", "values": [0.03, 0.04, 0.05, 0.06, 0.07], "labels": false, "domain": true, "tickSize": -4, "title": null}},
     "color": {"field": "s", "type": "nominal"}
    }},
   {"data": {"name": "t"}, "transform": [{"filter": "datum.p == 3"}],
    "mark": {"type": "point", "shape": "triangle-up", "filled": false, "size": 55, "strokeWidth": 1, "opacity": 1},
    "encoding": {
     "x": {"field": "x", "type": "quantitative", "scale": {"domain": [0.02, 0.08], "nice": false, "zero": false}, "axis": {"orient": "bottom", "tickCount": 12, "labels": false, "domain": false, "tickSize": -2, "title": null}},
     "y": {"field": "y", "type": "quantitative", "scale": {"domain": [0.021, 0.076], "nice": false, "zero": false}, "axis": {"orient": "left", "tickCount": 27, "labels": false, "domain": false, "tickSize": -2, "title": null}},
     "color": {"field": "s", "type": "nominal"}
    }},
   {"data": {"name": "m"}, "transform": [{"filter": "datum.p == 3"}],
    "mark": {"type": "point", "opacity": 0},
    "encoding": {
     "x": {"field": "x", "type": "quantitative", "scale": {"domain": [0.02, 0.08], "nice": false, "zero": false}, "axis": {"orient": "top", "tickCount": 12, "labels": false, "domain": false, "tickSize": -2, "title": null}},
     "y": {"field": "y", "type": "quantitative", "scale": {"domain": [0.021, 0.076], "nice": false, "zero": false}, "axis": {"orient": "right", "tickCount": 27, "labels": false, "domain": false, "tickSize": -2, "title": null}}
    }}
  ]
 },
 {
  "width": 176, "height": 149,
  "title": {"text": "Ka band - dust Planck 353GHz", "dx": 22},
  "resolve": {"axis": {"x": "independent", "y": "independent"}},
  "layer": [
   {"data": {"name": "c"}, "transform": [{"filter": "datum.p == 4"}],
    "mark": {"type": "line", "interpolate": "cardinal-closed", "strokeWidth": 1},
    "encoding": {
     "x": {"field": "x", "type": "quantitative", "scale": {"domain": [0.26, 0.34], "nice": false, "zero": false}, "axis": {"orient": "bottom", "values": [0.26, 0.28, 0.30, 0.32, 0.34], "format": ".2f", "title": null, "domain": false, "tickSize": -4, "labelPadding": 4}},
     "y": {"field": "y", "type": "quantitative", "scale": {"domain": [0.00123, 0.00962], "nice": false, "zero": false}, "axis": {"orient": "left", "values": [0.002, 0.004, 0.006, 0.008], "format": ".3f", "title": "β", "domain": true, "tickSize": -4, "labelAngle": 270, "labelAlign": "center", "labelBaseline": "bottom", "labelPadding": 2, "titlePadding": -4}},
     "color": {"field": "s", "type": "nominal", "scale": {"domain": ["A", "P", "W"], "range": ["#000000", "#3a29d0", "#f3eec6"]}, "legend": {"labelExpr": "datum.value == 'A' ? 'Analysis mask' : datum.value == 'P' ? 'Processing mask' : '△ = WMAP9 values'", "labelColor": {"expr": "datum.value == 'A' ? '#000000' : datum.value == 'P' ? '#3a29d0' : '#f3eec6'"}}},
     "strokeDash": {"field": "l", "type": "ordinal", "scale": {"domain": [1, 2, 3], "range": [[3, 2], [4, 2], [5, 2, 1, 2]]}, "legend": null},
     "order": {"field": "o", "type": "quantitative"}
    }},
   {"data": {"name": "m"}, "transform": [{"filter": "datum.p == 4"}],
    "mark": {"type": "point", "shape": "M-1,0L1,0M0,-1L0,1", "filled": false, "size": 90, "strokeWidth": 1, "opacity": 1},
    "encoding": {
     "x": {"field": "x", "type": "quantitative", "scale": {"domain": [0.26, 0.34], "nice": false, "zero": false}, "axis": {"orient": "top", "values": [0.26, 0.28, 0.30, 0.32, 0.34], "labels": false, "domain": false, "tickSize": -4, "title": null}},
     "y": {"field": "y", "type": "quantitative", "scale": {"domain": [0.00123, 0.00962], "nice": false, "zero": false}, "axis": {"orient": "right", "values": [0.002, 0.004, 0.006, 0.008], "labels": false, "domain": true, "tickSize": -4, "title": null}},
     "color": {"field": "s", "type": "nominal"}
    }},
   {"data": {"name": "t"}, "transform": [{"filter": "datum.p == 4"}],
    "mark": {"type": "point", "shape": "triangle-up", "filled": false, "size": 55, "strokeWidth": 1, "opacity": 1},
    "encoding": {
     "x": {"field": "x", "type": "quantitative", "scale": {"domain": [0.26, 0.34], "nice": false, "zero": false}, "axis": {"orient": "bottom", "tickCount": 16, "labels": false, "domain": false, "tickSize": -2, "title": null}},
     "y": {"field": "y", "type": "quantitative", "scale": {"domain": [0.00123, 0.00962], "nice": false, "zero": false}, "axis": {"orient": "left", "tickCount": 17, "labels": false, "domain": false, "tickSize": -2, "title": null}},
     "color": {"field": "s", "type": "nominal"}
    }},
   {"data": {"name": "m"}, "transform": [{"filter": "datum.p == 4"}],
    "mark": {"type": "point", "opacity": 0},
    "encoding": {
     "x": {"field": "x", "type": "quantitative", "scale": {"domain": [0.26, 0.34], "nice": false, "zero": false}, "axis": {"orient": "top", "tickCount": 16, "labels": false, "domain": false, "tickSize": -2, "title": null}},
     "y": {"field": "y", "type": "quantitative", "scale": {"domain": [0.00123, 0.00962], "nice": false, "zero": false}, "axis": {"orient": "right", "tickCount": 17, "labels": false, "domain": false, "tickSize": -2, "title": null}}
    }}
  ]
 },
 {
  "width": 176, "height": 149,
  "title": {"text": "Q band - dust Planck 353GHz", "dx": 20},
  "resolve": {"axis": {"x": "independent", "y": "independent"}},
  "layer": [
   {"data": {"name": "c"}, "transform": [{"filter": "datum.p == 5"}],
    "mark": {"type": "line", "interpolate": "cardinal-closed", "strokeWidth": 1},
    "encoding": {
     "x": {"field": "x", "type": "quantitative", "scale": {"domain": [0.12, 0.20], "nice": false, "zero": false}, "axis": {"orient": "bottom", "values": [0.12, 0.14, 0.16, 0.18, 0.20], "format": ".2f", "title": null, "domain": false, "tickSize": -4, "labelPadding": 4}},
     "y": {"field": "y", "type": "quantitative", "scale": {"domain": [0.00068, 0.00664], "nice": false, "zero": false}, "axis": {"orient": "left", "values": [0.001, 0.002, 0.003, 0.004, 0.005, 0.006], "format": ".3f", "title": "β", "domain": true, "tickSize": -4, "labelAngle": 270, "labelAlign": "center", "labelBaseline": "bottom", "labelPadding": 2, "titlePadding": -4}},
     "color": {"field": "s", "type": "nominal", "scale": {"domain": ["A", "P", "W"], "range": ["#000000", "#3a29d0", "#f3eec6"]}, "legend": {"labelExpr": "datum.value == 'A' ? 'Analysis mask' : datum.value == 'P' ? 'Processing mask' : '△ = WMAP9 values'", "labelColor": {"expr": "datum.value == 'A' ? '#000000' : datum.value == 'P' ? '#3a29d0' : '#f3eec6'"}}},
     "strokeDash": {"field": "l", "type": "ordinal", "scale": {"domain": [1, 2, 3], "range": [[3, 2], [4, 2], [5, 2, 1, 2]]}, "legend": null},
     "order": {"field": "o", "type": "quantitative"}
    }},
   {"data": {"name": "m"}, "transform": [{"filter": "datum.p == 5"}],
    "mark": {"type": "point", "shape": "M-1,0L1,0M0,-1L0,1", "filled": false, "size": 90, "strokeWidth": 1, "opacity": 1},
    "encoding": {
     "x": {"field": "x", "type": "quantitative", "scale": {"domain": [0.12, 0.20], "nice": false, "zero": false}, "axis": {"orient": "top", "values": [0.12, 0.14, 0.16, 0.18, 0.20], "labels": false, "domain": false, "tickSize": -4, "title": null}},
     "y": {"field": "y", "type": "quantitative", "scale": {"domain": [0.00068, 0.00664], "nice": false, "zero": false}, "axis": {"orient": "right", "values": [0.001, 0.002, 0.003, 0.004, 0.005, 0.006], "labels": false, "domain": true, "tickSize": -4, "title": null}},
     "color": {"field": "s", "type": "nominal"}
    }},
   {"data": {"name": "t"}, "transform": [{"filter": "datum.p == 5"}],
    "mark": {"type": "point", "shape": "triangle-up", "filled": false, "size": 55, "strokeWidth": 1, "opacity": 1},
    "encoding": {
     "x": {"field": "x", "type": "quantitative", "scale": {"domain": [0.12, 0.20], "nice": false, "zero": false}, "axis": {"orient": "bottom", "tickCount": 16, "labels": false, "domain": false, "tickSize": -2, "title": null}},
     "y": {"field": "y", "type": "quantitative", "scale": {"domain": [0.00068, 0.00664], "nice": false, "zero": false}, "axis": {"orient": "left", "tickCount": 30, "labels": false, "domain": false, "tickSize": -2, "title": null}},
     "color": {"field": "s", "type": "nominal"}
    }},
   {"data": {"name": "m"}, "transform": [{"filter": "datum.p == 5"}],
    "mark": {"type": "point", "opacity": 0},
    "encoding": {
     "x": {"field": "x", "type": "quantitative", "scale": {"domain": [0.12, 0.20], "nice": false, "zero": false}, "axis": {"orient": "top", "tickCount": 16, "labels": false, "domain": false, "tickSize": -2, "title": null}},
     "y": {"field": "y", "type": "quantitative", "scale": {"domain": [0.00068, 0.00664], "nice": false, "zero": false}, "axis": {"orient": "right", "tickCount": 30, "labels": false, "domain": false, "tickSize": -2, "title": null}}
    }}
  ]
 },
 {
  "width": 176, "height": 149,
  "title": {"text": "V band - dust Planck 353GHz", "dx": 19},
  "resolve": {"axis": {"x": "independent", "y": "independent"}},
  "layer": [
   {"data": {"name": "c"}, "transform": [{"filter": "datum.p == 6"}],
    "mark": {"type": "line", "interpolate": "cardinal-closed", "strokeWidth": 1},
    "encoding": {
     "x": {"field": "x", "type": "quantitative", "scale": {"domain": [0.02, 0.08], "nice": false, "zero": false}, "axis": {"orient": "bottom", "values": [0.02, 0.04, 0.06, 0.08], "format": ".2f", "title": null, "domain": false, "tickSize": -4, "labelPadding": 4}},
     "y": {"field": "y", "type": "quantitative", "scale": {"domain": [0.00335, 0.0127], "nice": false, "zero": false}, "axis": {"orient": "left", "values": [0.004, 0.006, 0.008, 0.010, 0.012], "format": ".3f", "title": "β", "domain": true, "tickSize": -4, "labelAngle": 270, "labelAlign": "center", "labelBaseline": "bottom", "labelPadding": 2, "titlePadding": -4}},
     "color": {"field": "s", "type": "nominal", "scale": {"domain": ["A", "P", "W"], "range": ["#000000", "#3a29d0", "#f3eec6"]}, "legend": {"labelExpr": "datum.value == 'A' ? 'Analysis mask' : datum.value == 'P' ? 'Processing mask' : '△ = WMAP9 values'", "labelColor": {"expr": "datum.value == 'A' ? '#000000' : datum.value == 'P' ? '#3a29d0' : '#f3eec6'"}}},
     "strokeDash": {"field": "l", "type": "ordinal", "scale": {"domain": [1, 2, 3], "range": [[3, 2], [4, 2], [5, 2, 1, 2]]}, "legend": null},
     "order": {"field": "o", "type": "quantitative"}
    }},
   {"data": {"name": "m"}, "transform": [{"filter": "datum.p == 6"}],
    "mark": {"type": "point", "shape": "M-1,0L1,0M0,-1L0,1", "filled": false, "size": 90, "strokeWidth": 1, "opacity": 1},
    "encoding": {
     "x": {"field": "x", "type": "quantitative", "scale": {"domain": [0.02, 0.08], "nice": false, "zero": false}, "axis": {"orient": "top", "values": [0.02, 0.04, 0.06, 0.08], "labels": false, "domain": false, "tickSize": -4, "title": null}},
     "y": {"field": "y", "type": "quantitative", "scale": {"domain": [0.00335, 0.0127], "nice": false, "zero": false}, "axis": {"orient": "right", "values": [0.004, 0.006, 0.008, 0.010, 0.012], "labels": false, "domain": true, "tickSize": -4, "title": null}},
     "color": {"field": "s", "type": "nominal"}
    }},
   {"data": {"name": "t"}, "transform": [{"filter": "datum.p == 6"}],
    "mark": {"type": "point", "shape": "triangle-up", "filled": false, "size": 55, "strokeWidth": 1, "opacity": 1},
    "encoding": {
     "x": {"field": "x", "type": "quantitative", "scale": {"domain": [0.02, 0.08], "nice": false, "zero": false}, "axis": {"orient": "bottom", "tickCount": 12, "labels": false, "domain": false, "tickSize": -2, "title": null}},
     "y": {"field": "y", "type": "quantitative", "scale": {"domain": [0.00335, 0.0127], "nice": false, "zero": false}, "axis": {"orient": "left", "tickCount": 19, "labels": false, "domain": false, "tickSize": -2, "title": null}},
     "color": {"field": "s", "type": "nominal"}
    }},
   {"data": {"name": "m"}, "transform": [{"filter": "datum.p == 6"}],
    "mark": {"type": "point", "opacity": 0},
    "encoding": {
     "x": {"field": "x", "type": "quantitative", "scale": {"domain": [0.02, 0.08], "nice": false, "zero": false}, "axis": {"orient": "top", "tickCount": 12, "labels": false, "domain": false, "tickSize": -2, "title": null}},
     "y": {"field": "y", "type": "quantitative", "scale": {"domain": [0.00335, 0.0127], "nice": false, "zero": false}, "axis": {"orient": "right", "tickCount": 19, "labels": false, "domain": false, "tickSize": -2, "title": null}}
    }}
  ]
 }
]
}
